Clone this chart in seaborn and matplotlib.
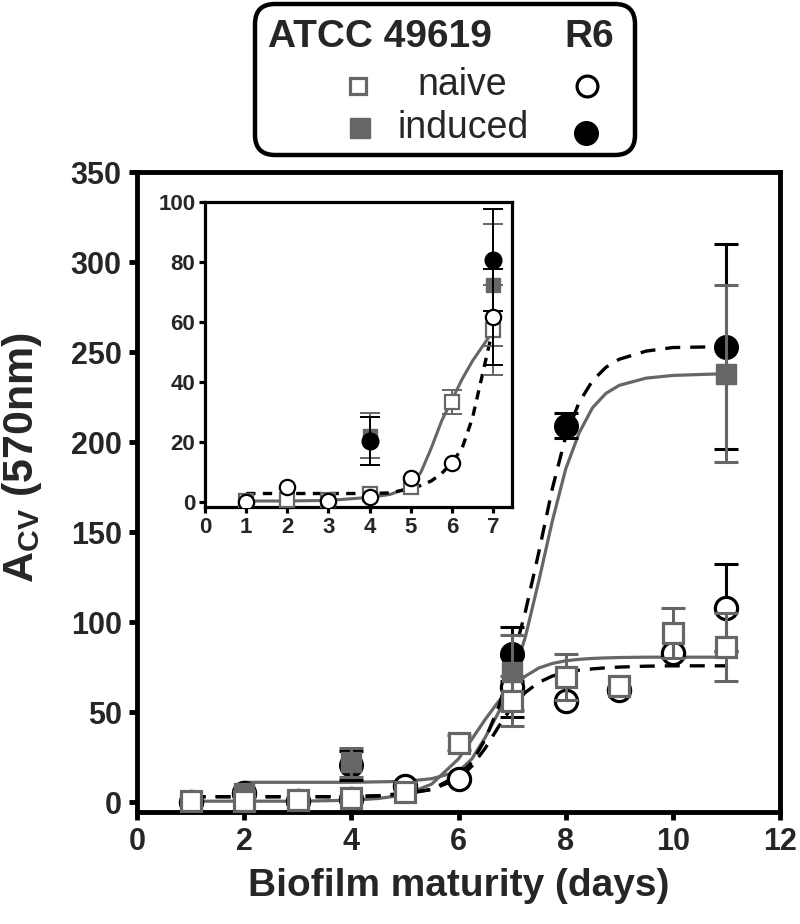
import numpy as np
import matplotlib
matplotlib.use("Agg")
import matplotlib.pyplot as plt
import seaborn as sns
from matplotlib.patches import FancyBboxPatch

sns.set_style("ticks")
plt.rcParams['font.family'] = ['Liberation Sans', 'DejaVu Sans']
plt.rcParams['mathtext.fontset'] = 'custom'
plt.rcParams['mathtext.rm'] = 'Liberation Sans:bold'
plt.rcParams['mathtext.bf'] = 'Liberation Sans:bold'

GRAY = '#666666'

# ---- main plot data (days 1-11) ----
days = np.array([1, 2, 3, 4, 5, 6, 7, 8, 9, 10, 11])
atcc_naive = np.array([0.5, 0.5, 1, 2.5, 5.5, 33, 56, 69.5, 64.5, 94, 86])
atcc_naive_err = np.array([0, 0, 0, 0, 0, 4, 14, 13, 0, 14, 19])
r6_naive = np.array([0, 5, 0.5, 1.7, 9, 13, 64, 56, 62, 83, 108])
r6_naive_err = np.array([0, 0, 0, 0, 0, 0, 17, 0, 0, 0, 24])

atcc_ind_days = np.array([2, 4, 7, 11])
atcc_ind = np.array([5, 22, 72, 238])
atcc_ind_err = np.array([0, 8, 21, 49])
r6_ind_days = np.array([2, 4, 7, 8, 11])
r6_ind = np.array([5, 20.5, 82, 209, 253])
r6_ind_err = np.array([0, 8, 15, 7, 57])

# fitted curves
fit_x = [1, 2, 3, 4, 4.5, 5, 5.5, 6, 6.25, 6.5, 6.75, 7, 7.25, 7.5, 7.75, 8, 8.25, 8.5, 8.75, 9, 9.5, 10, 11]
fit_atcc_naive = [0.5, 0.5, 0.5, 1, 2, 4, 10, 24, 35, 46, 56, 63, 70, 74.5, 77, 78.5, 79.3, 79.8, 80.1, 80.3, 80.5, 80.5, 80.5]
fit_r6_naive = [3, 3, 3, 3, 3.5, 5, 7, 13, 20, 30, 42, 53, 61, 66.5, 70, 72, 73.3, 74, 74.6, 75, 75.5, 75.7, 75.7]
fit_r6_ind = [3, 3, 3, 3, 3.5, 4.5, 7, 15, 22, 35, 53, 78, 106, 139, 174, 203, 222, 234, 241.5, 246, 250.5, 252.5, 253]
fit_atcc_ind_x = [2, 3, 4, 5, 5.5, 6, 6.25, 6.5, 6.75, 7, 7.25, 7.5, 7.75, 8, 8.25, 8.5, 8.75, 9, 9.5, 10, 11]
fit_atcc_ind = [11, 11, 11, 11.5, 13, 17, 24, 36, 50, 68, 92, 123, 156, 185, 205, 219, 227, 231.5, 235.5, 237, 238]

# ---- inset data (days 1-7) ----
in_days = np.array([1, 2, 3, 4, 5, 6, 7])
in_atcc_naive = np.array([0.3, 0.5, 0.5, 2.8, 5, 33.3, 57.4])
in_atcc_naive_err = np.array([0, 0, 0, 0, 0, 4, 15])
in_r6_naive = np.array([0, 5, 0.3, 1.7, 8, 13, 61.7])
in_r6_naive_err = np.array([0, 0, 0, 0, 0, 0, 16])
in_ind_days = np.array([4, 7])
in_atcc_ind = np.array([22, 72.4])
in_atcc_ind_err = np.array([7.5, 20.4])
in_r6_ind = np.array([20.2, 80.8])
in_r6_ind_err = np.array([8, 17])

in_fit_x = [1, 2, 3, 4, 4.5, 5, 5.25, 5.5, 5.75, 6, 6.25, 6.5, 6.75, 7]
in_fit_atcc = [0.3, 0.3, 0.5, 1.5, 2.5, 5, 10, 18, 27, 34, 41, 47, 52, 57]
in_fit_r6 = [2.8, 2.8, 2.8, 2.8, 3, 4.5, 5.5, 7, 9.5, 13, 18, 28, 43, 58]

fig = plt.figure(figsize=(8, 9.24), dpi=100)
ax = fig.add_axes([137 / 800, 1 - 812 / 924, (780 - 137) / 800, (812 - 172) / 924])


def series(a, x, y, err, marker, ms, mfc, mec, ecol, mew, elw, cap, z):
    m = err > 0
    if m.any():
        a.errorbar(x[m], y[m], yerr=err[m], fmt='none', ecolor=ecol, elinewidth=elw,
                   capsize=cap, capthick=elw, zorder=z)
    a.plot(x, y, linestyle='none', marker=marker, ms=ms, mfc=mfc, mec=mec, mew=mew, zorder=z + 0.5)


# fit curves
sns.lineplot(x=fit_x, y=fit_atcc_naive, ax=ax, color=GRAY, lw=2.3, zorder=2)
sns.lineplot(x=fit_atcc_ind_x, y=fit_atcc_ind, ax=ax, color=GRAY, lw=2.3, zorder=2)
sns.lineplot(x=fit_x, y=fit_r6_naive, ax=ax, color='black', lw=2.4, zorder=2)
ax.lines[-1].set_dashes([4.5, 3])
sns.lineplot(x=fit_x, y=fit_r6_ind, ax=ax, color='black', lw=2.4, zorder=2)
ax.lines[-1].set_dashes([4.5, 3])

series(ax, days, r6_naive, r6_naive_err, 'o', 16, 'white', 'black', 'black', 2.3, 2.2, 8.5, 3)
series(ax, r6_ind_days, r6_ind, r6_ind_err, 'o', 17, 'black', 'black', 'black', 1, 2.2, 8.5, 4)
series(ax, atcc_ind_days, atcc_ind, atcc_ind_err, 's', 15, GRAY, GRAY, GRAY, 1, 2.2, 8.5, 5)
series(ax, days, atcc_naive, atcc_naive_err, 's', 14, 'white', GRAY, GRAY, 2.3, 2.2, 8.5, 6)

ax.set_xlim(0, 12)
ax.set_ylim(-5.5, 350)
ax.set_xticks(np.arange(0, 13, 2))
ax.set_yticks(np.arange(0, 351, 50))
for s in ax.spines.values():
    s.set_linewidth(3.5)
    s.set_color('black')
ax.tick_params(axis='both', length=6, width=3.5, labelsize=22, pad=5, color='black')
for lab in ax.get_xticklabels() + ax.get_yticklabels():
    lab.set_fontweight('bold')
ax.set_xlabel('Biofilm maturity (days)', fontsize=28, fontweight='bold', labelpad=8)
ax.set_ylabel('')
fig.text(22 / 800, 1 - 457 / 924, r'A$_{\mathrm{CV}}$ (570nm)', rotation=90, fontsize=31,
         fontweight='bold', ha='center', va='center')

# ---- inset ----
axi = fig.add_axes([205 / 800, 1 - 507 / 924, (512 - 205) / 800, (507 - 202) / 924])
sns.lineplot(x=in_fit_x, y=in_fit_atcc, ax=axi, color=GRAY, lw=2.2, zorder=2)
sns.lineplot(x=in_fit_x, y=in_fit_r6, ax=axi, color='black', lw=2.4, zorder=2)
axi.lines[-1].set_dashes([2.8, 2.2])

series(axi, in_ind_days, in_atcc_ind, in_atcc_ind_err, 's', 9.5, GRAY, GRAY, GRAY, 1, 1.4, 7, 3)
series(axi, in_ind_days, in_r6_ind, in_r6_ind_err, 'o', 12, 'black', 'black', 'black', 1, 1.4, 7, 4)
series(axi, in_days, in_atcc_naive, in_atcc_naive_err, 's', 9.5, 'white', GRAY, GRAY, 1.6, 1.4, 7, 5)
series(axi, in_days, in_r6_naive, in_r6_naive_err, 'o', 11, 'white', 'black', 'black', 1.6, 1.4, 7, 6)

axi.set_xlim(0, 7.46)
axi.set_ylim(-1.7, 100)
axi.set_xticks(np.arange(0, 8, 1))
axi.set_yticks(np.arange(0, 101, 20))
for s in axi.spines.values():
    s.set_linewidth(2.3)
    s.set_color('black')
axi.tick_params(axis='both', length=4, width=2.3, labelsize=16, pad=3, color='black')
for lab in axi.get_xticklabels() + axi.get_yticklabels():
    lab.set_fontweight('bold')
axi.set_xlabel('')
axi.set_ylabel('')

# ---- legend box (pixel coordinates) ----
lg = fig.add_axes([0, 0, 1, 1], zorder=10)
lg.set_xlim(0, 800)
lg.set_ylim(924, 0)
lg.axis('off')
lg.add_patch(FancyBboxPatch((255, 4), 380, 151, boxstyle='round,pad=0,rounding_size=20',
                            fc='white', ec='black', lw=3.2))
lg.text(268, 37, 'ATCC 49619', fontsize=28, fontweight='bold', ha='left', va='center')
lg.text(614, 37, 'R6', fontsize=28, fontweight='bold', ha='right', va='center')
lg.text(462, 85, 'naive', fontsize=27, ha='center', va='center')
lg.text(463, 128, 'induced', fontsize=27, ha='center', va='center')
lg.plot([358], [86], marker='s', ms=12, mfc='white', mec=GRAY, mew=2.3)
lg.plot([360], [128], marker='s', ms=14, mfc=GRAY, mec=GRAY, mew=1)
lg.plot([587], [86], marker='o', ms=15, mfc='white', mec='black', mew=2.3)
lg.plot([586], [133], marker='o', ms=17, mfc='black', mec='black', mew=1)

fig.savefig('out.png', dpi=100)
